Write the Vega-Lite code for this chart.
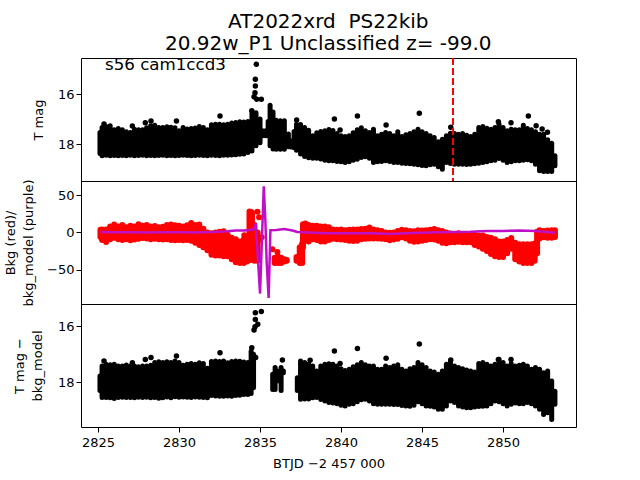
{"$schema":"https://vega.github.io/schema/vega-lite/v6.json","padding":{"left":4,"top":11,"right":0,"bottom":0},"autosize":{"type":"pad"},"background":"white","spacing":0,"bounds":"flush",
"config":{"font":"DejaVu Sans","view":{"stroke":"black","strokeWidth":1},"axis":{"grid":false,"domain":false,"tickColor":"black","tickSize":5,"labelColor":"black","titleColor":"black","labelFontSize":13,"titleFontSize":13,"titleFontWeight":"normal","labelOverlap":false}},
"title":{"text":["AT2022xrd \u00a0PS22kib","20.92w_P1 Unclassified z= -99.0"],"fontSize":20,"fontWeight":"normal","color":"black","anchor":"middle","offset":3,"lineHeight":22,"dx":38},
"datasets":{
"top":[{"d":2825.12,"t":17.54,"b":18.38},{"d":2825.25,"t":17.34,"b":18.47},{"d":2825.5,"t":17.30,"b":18.45},{"d":2825.75,"t":17.27,"b":18.47},{"d":2826,"t":17.43,"b":18.46},{"d":2826.25,"t":17.38,"b":18.47},{"d":2826.5,"t":17.43,"b":18.46},{"d":2826.75,"t":17.51,"b":18.47},{"d":2827,"t":17.54,"b":18.45},{"d":2827.25,"t":17.41,"b":18.47},{"d":2827.5,"t":17.43,"b":18.46},{"d":2827.75,"t":17.43,"b":18.45},{"d":2828,"t":17.35,"b":18.47},{"d":2828.25,"t":17.27,"b":18.46},{"d":2828.5,"t":17.25,"b":18.47},{"d":2828.75,"t":17.34,"b":18.46},{"d":2829,"t":17.34,"b":18.45},{"d":2829.25,"t":17.31,"b":18.47},{"d":2829.5,"t":17.33,"b":18.46},{"d":2829.75,"t":17.35,"b":18.47},{"d":2830,"t":17.47,"b":18.46},{"d":2830.25,"t":17.34,"b":18.45},{"d":2830.5,"t":17.40,"b":18.46},{"d":2830.75,"t":17.38,"b":18.47},{"d":2831,"t":17.36,"b":18.46},{"d":2831.25,"t":17.30,"b":18.45},{"d":2831.5,"t":17.34,"b":18.46},{"d":2831.75,"t":17.43,"b":18.47},{"d":2832,"t":17.23,"b":18.45},{"d":2832.25,"t":17.21,"b":18.46},{"d":2832.5,"t":17.21,"b":18.47},{"d":2832.75,"t":17.23,"b":18.45},{"d":2833,"t":17.21,"b":18.45},{"d":2833.25,"t":17.16,"b":18.44},{"d":2833.5,"t":17.14,"b":18.43},{"d":2833.75,"t":17.11,"b":18.41},{"d":2834,"t":17.12,"b":18.40},{"d":2834.25,"t":17.10,"b":18.34},{"d":2834.5,"t":16.78,"b":18.28},{"d":2834.75,"t":16.75,"b":18.07},{"d":2835,"t":17.0,"b":17.95},{"d":2835.15,"t":17.47,"b":17.67},{"d":2835.35,"t":17.47,"b":17.67},{"d":2835.5,"t":17.1,"b":17.67},{"d":2835.62,"t":16.45,"b":18.07},{"d":2835.8,"t":16.72,"b":18.2},{"d":2836,"t":17.05,"b":18.21},{"d":2836.25,"t":17.07,"b":18.21},{"d":2836.5,"t":17.07,"b":18.21},{"d":2836.75,"t":17.6,"b":18.11},{"d":2836.9,"t":17.87,"b":18.12},{"d":2837.1,"t":17.5,"b":18.15},{"d":2837.25,"t":17.21,"b":18.25},{"d":2837.5,"t":17.22,"b":18.40},{"d":2837.75,"t":17.34,"b":18.50},{"d":2838,"t":17.45,"b":18.55},{"d":2838.25,"t":17.67,"b":18.57},{"d":2838.5,"t":17.55,"b":18.57},{"d":2838.75,"t":17.50,"b":18.60},{"d":2839,"t":17.47,"b":18.65},{"d":2839.25,"t":17.42,"b":18.67},{"d":2839.5,"t":17.46,"b":18.67},{"d":2839.75,"t":17.58,"b":18.70},{"d":2840,"t":17.67,"b":18.71},{"d":2840.25,"t":17.70,"b":18.74},{"d":2840.5,"t":17.67,"b":18.71},{"d":2840.75,"t":17.55,"b":18.65},{"d":2841,"t":17.43,"b":18.61},{"d":2841.25,"t":17.35,"b":18.54},{"d":2841.5,"t":17.47,"b":18.51},{"d":2841.75,"t":17.54,"b":18.57},{"d":2842,"t":17.41,"b":18.74},{"d":2842.25,"t":17.67,"b":18.71},{"d":2842.5,"t":17.61,"b":18.70},{"d":2842.75,"t":17.54,"b":18.67},{"d":2843,"t":17.58,"b":18.70},{"d":2843.25,"t":17.67,"b":18.74},{"d":2843.5,"t":17.51,"b":18.74},{"d":2843.75,"t":17.70,"b":18.77},{"d":2844,"t":17.63,"b":18.78},{"d":2844.25,"t":17.58,"b":18.79},{"d":2844.5,"t":17.51,"b":18.81},{"d":2844.75,"t":17.41,"b":18.83},{"d":2845,"t":17.51,"b":18.86},{"d":2845.25,"t":17.58,"b":18.87},{"d":2845.5,"t":17.67,"b":18.83},{"d":2845.75,"t":17.74,"b":18.81},{"d":2846,"t":17.91,"b":18.91},{"d":2846.25,"t":17.81,"b":19.01},{"d":2846.5,"t":17.67,"b":18.74},{"d":2846.75,"t":17.57,"b":18.78},{"d":2847,"t":17.58,"b":18.81},{"d":2847.25,"t":17.61,"b":18.81},{"d":2847.5,"t":17.58,"b":18.81},{"d":2847.75,"t":17.65,"b":18.82},{"d":2848,"t":17.70,"b":18.81},{"d":2848.25,"t":17.61,"b":18.79},{"d":2848.5,"t":17.34,"b":18.77},{"d":2848.75,"t":17.30,"b":18.74},{"d":2849,"t":17.37,"b":18.71},{"d":2849.25,"t":17.41,"b":18.67},{"d":2849.5,"t":17.34,"b":18.65},{"d":2849.75,"t":17.21,"b":18.58},{"d":2850,"t":17.34,"b":18.65},{"d":2850.25,"t":17.47,"b":18.74},{"d":2850.5,"t":17.41,"b":18.71},{"d":2850.75,"t":17.43,"b":18.67},{"d":2851,"t":17.43,"b":18.67},{"d":2851.25,"t":17.25,"b":18.65},{"d":2851.5,"t":17.38,"b":18.63},{"d":2851.75,"t":17.43,"b":18.67},{"d":2852,"t":17.51,"b":18.81},{"d":2852.25,"t":17.61,"b":19.07},{"d":2852.5,"t":17.61,"b":19.10},{"d":2852.75,"t":17.83,"b":19.10},{"d":2853,"t":17.97,"b":19.10},{"d":2853.2,"t":18.47,"b":18.87}],
"topPts":[{"d":2834.77,"m":14.81},{"d":2834.71,"m":15.41},{"d":2834.71,"m":15.68},{"d":2834.69,"m":15.95},{"d":2834.63,"m":16.11},{"d":2834.79,"m":16.21},{"d":2835.08,"m":16.21},{"d":2832.53,"m":16.88},{"d":2825.37,"m":17.2},{"d":2827.12,"m":17.28},{"d":2827.92,"m":17.15},{"d":2828.27,"m":17.08},{"d":2829.84,"m":17.08},{"d":2837.26,"m":17.04},{"d":2839.59,"m":17.0},{"d":2834.49,"m":16.67},{"d":2841.01,"m":16.88},{"d":2842.78,"m":17.24},{"d":2839.94,"m":17.44},{"d":2844.83,"m":16.77},{"d":2846.77,"m":17.33},{"d":2849.71,"m":17.11},{"d":2850.49,"m":17.15},{"d":2851.56,"m":16.88},{"d":2852.04,"m":17.27},{"d":2852.41,"m":17.4},{"d":2852.74,"m":17.53}],
"red":[{"d":2825.15,"t":3.5,"b":-6},{"d":2825.25,"t":4,"b":-10},{"d":2825.5,"t":4,"b":-12.7},{"d":2825.75,"t":8,"b":-9},{"d":2826,"t":10.5,"b":-7},{"d":2826.25,"t":8,"b":-9},{"d":2826.5,"t":10,"b":-10},{"d":2826.75,"t":7,"b":-9},{"d":2827,"t":9,"b":-10.5},{"d":2827.25,"t":8,"b":-9.5},{"d":2827.5,"t":11,"b":-8.5},{"d":2827.75,"t":9,"b":-7.5},{"d":2828,"t":10,"b":-8},{"d":2828.25,"t":8,"b":-9},{"d":2828.5,"t":8.5,"b":-8.5},{"d":2828.75,"t":7,"b":-9},{"d":2829,"t":7.5,"b":-9.5},{"d":2829.25,"t":10,"b":-9},{"d":2829.5,"t":10.5,"b":-10},{"d":2829.75,"t":9.5,"b":-10.5},{"d":2830,"t":9,"b":-10},{"d":2830.25,"t":8,"b":-10.5},{"d":2830.5,"t":9.5,"b":-10},{"d":2830.75,"t":12.5,"b":-11},{"d":2831,"t":10,"b":-14},{"d":2831.25,"t":10.5,"b":-17},{"d":2831.5,"t":5,"b":-20},{"d":2831.75,"t":0,"b":-24},{"d":2832,"t":-1,"b":-30},{"d":2832.25,"t":0,"b":-31},{"d":2832.5,"t":1,"b":-31},{"d":2832.75,"t":1.5,"b":-32},{"d":2833,"t":-3,"b":-32},{"d":2833.25,"t":-7,"b":-36},{"d":2833.5,"t":-9,"b":-40},{"d":2833.75,"t":-12,"b":-41},{"d":2834,"t":-9,"b":-41},{"d":2834.2,"t":-10,"b":-39},{"d":2834.35,"t":28,"b":-37},{"d":2834.5,"t":27,"b":-37},{"d":2834.65,"t":10,"b":-38},{"d":2834.85,"t":0,"b":-38},{"d":2835.9,"t":-34,"b":-40.9},{"d":2836.1,"t":-32,"b":-41},{"d":2836.3,"t":-34,"b":-41},{"d":2836.5,"t":-36,"b":-39},{"d":2836.65,"t":-37,"b":-38},{"d":2837.25,"t":-33,"b":-38},{"d":2837.45,"t":-20,"b":-41},{"d":2837.6,"t":-15,"b":-41},{"d":2837.65,"t":11,"b":-20},{"d":2837.8,"t":12,"b":-8},{"d":2838,"t":10,"b":-12},{"d":2838.25,"t":9,"b":-9},{"d":2838.5,"t":9,"b":-10},{"d":2838.75,"t":8,"b":-12},{"d":2839,"t":8,"b":-12},{"d":2839.25,"t":7,"b":-10},{"d":2839.5,"t":4,"b":-8.5},{"d":2839.75,"t":3.5,"b":-9},{"d":2840,"t":4,"b":-9.5},{"d":2840.25,"t":3,"b":-10},{"d":2840.5,"t":3.5,"b":-11},{"d":2840.75,"t":4,"b":-11.5},{"d":2841,"t":4,"b":-11},{"d":2841.25,"t":4.5,"b":-9},{"d":2841.5,"t":5,"b":-8.5},{"d":2841.75,"t":6.5,"b":-8},{"d":2842,"t":4,"b":-8},{"d":2842.25,"t":3,"b":-8},{"d":2842.5,"t":2,"b":-8.5},{"d":2842.75,"t":0,"b":-9},{"d":2843,"t":-0.5,"b":-10.5},{"d":2843.25,"t":0,"b":-9.5},{"d":2843.5,"t":2,"b":-8.5},{"d":2843.75,"t":3.5,"b":-6.5},{"d":2844,"t":3,"b":-8},{"d":2844.25,"t":2,"b":-11},{"d":2844.5,"t":1.5,"b":-12.5},{"d":2844.75,"t":3,"b":-12},{"d":2845,"t":2.5,"b":-11},{"d":2845.25,"t":3,"b":-10},{"d":2845.5,"t":3.5,"b":-9},{"d":2845.75,"t":4.5,"b":-9.5},{"d":2846,"t":3,"b":-11},{"d":2846.25,"t":2,"b":-14},{"d":2846.5,"t":0,"b":-14.5},{"d":2846.75,"t":-1.5,"b":-13},{"d":2847,"t":-2.5,"b":-13},{"d":2847.25,"t":-1,"b":-12.5},{"d":2847.5,"t":-2,"b":-13},{"d":2847.75,"t":-3,"b":-13},{"d":2848,"t":-3,"b":-13},{"d":2848.25,"t":-3,"b":-17},{"d":2848.5,"t":-4,"b":-19},{"d":2848.75,"t":-4,"b":-22},{"d":2849,"t":-6,"b":-25},{"d":2849.25,"t":-7,"b":-29},{"d":2849.5,"t":-9,"b":-32},{"d":2849.75,"t":-12,"b":-33},{"d":2850,"t":-12,"b":-33},{"d":2850.25,"t":-10,"b":-28},{"d":2850.5,"t":-7.5,"b":-22},{"d":2850.75,"t":-14,"b":-36},{"d":2851,"t":-16,"b":-39},{"d":2851.25,"t":-16,"b":-41},{"d":2851.5,"t":-16,"b":-41},{"d":2851.75,"t":-16,"b":-41},{"d":2851.95,"t":-15,"b":-38},{"d":2852.1,"t":1,"b":-28},{"d":2852.25,"t":3,"b":-8},{"d":2852.5,"t":2,"b":-6.5},{"d":2852.75,"t":2.5,"b":-7},{"d":2853,"t":3,"b":-7},{"d":2853.2,"t":3,"b":-6}],
"redPts":[{"d":2834.84,"v":27.9},{"d":2834.94,"v":20.3},{"d":2834.03,"v":-3.8},{"d":2835.1,"v":-6.5},{"d":2834.9,"v":-10},{"d":2835.76,"v":-22.6},{"d":2836.07,"v":-26.1}],
"purple":[{"d":2825.15,"v":0.5},{"d":2826,"v":0.3},{"d":2827,"v":0.2},{"d":2828,"v":0},{"d":2829,"v":0.3},{"d":2830,"v":0.2},{"d":2831,"v":0},{"d":2832,"v":0.5},{"d":2832.5,"v":1},{"d":2833,"v":1.5},{"d":2833.5,"v":2.5},{"d":2834,"v":2.5},{"d":2834.5,"v":3.5},{"d":2834.65,"v":5},{"d":2834.73,"v":12},{"d":2834.86,"v":-32},{"d":2835,"v":-82},{"d":2835.1,"v":-20},{"d":2835.23,"v":62},{"d":2835.33,"v":15},{"d":2835.41,"v":-40},{"d":2835.53,"v":-88},{"d":2835.64,"v":3},{"d":2836,"v":3.3},{"d":2836.5,"v":4.5},{"d":2837,"v":2.5},{"d":2837.3,"v":0.5},{"d":2838,"v":0},{"d":2839,"v":-1},{"d":2840,"v":-1.2},{"d":2841,"v":-1},{"d":2842,"v":-1.2},{"d":2843,"v":-2},{"d":2844,"v":-1},{"d":2845,"v":-0.5},{"d":2846,"v":0.3},{"d":2847,"v":0.5},{"d":2848,"v":1},{"d":2849,"v":2},{"d":2850,"v":2},{"d":2851,"v":2.5},{"d":2852,"v":2},{"d":2853,"v":0},{"d":2853.2,"v":-0.2}],
"bot":[{"d":2825.12,"t":17.78,"b":18.3},{"d":2825.25,"t":17.42,"b":18.55},{"d":2825.5,"t":17.36,"b":18.55},{"d":2825.75,"t":17.38,"b":18.56},{"d":2826,"t":17.36,"b":18.58},{"d":2826.25,"t":17.42,"b":18.55},{"d":2826.5,"t":17.42,"b":18.54},{"d":2826.75,"t":17.39,"b":18.55},{"d":2827,"t":17.42,"b":18.55},{"d":2827.25,"t":17.42,"b":18.56},{"d":2827.5,"t":17.45,"b":18.54},{"d":2827.75,"t":17.42,"b":18.55},{"d":2828,"t":17.42,"b":18.54},{"d":2828.25,"t":17.40,"b":18.56},{"d":2828.5,"t":17.30,"b":18.55},{"d":2828.75,"t":17.27,"b":18.57},{"d":2829,"t":17.30,"b":18.56},{"d":2829.25,"t":17.27,"b":18.53},{"d":2829.5,"t":17.30,"b":18.56},{"d":2829.75,"t":17.24,"b":18.52},{"d":2830,"t":17.30,"b":18.54},{"d":2830.25,"t":17.40,"b":18.53},{"d":2830.5,"t":17.36,"b":18.54},{"d":2830.75,"t":17.33,"b":18.55},{"d":2831,"t":17.36,"b":18.53},{"d":2831.25,"t":17.31,"b":18.54},{"d":2831.5,"t":17.33,"b":18.55},{"d":2831.75,"t":17.50,"b":18.56},{"d":2832,"t":17.26,"b":18.48},{"d":2832.25,"t":17.24,"b":18.49},{"d":2832.5,"t":17.26,"b":18.50},{"d":2832.75,"t":17.24,"b":18.50},{"d":2833,"t":17.31,"b":18.49},{"d":2833.25,"t":17.26,"b":18.50},{"d":2833.5,"t":17.24,"b":18.48},{"d":2833.75,"t":17.25,"b":18.47},{"d":2834,"t":17.28,"b":18.44},{"d":2834.25,"t":17.30,"b":18.44},{"d":2834.45,"t":16.9,"b":18.40},{"d":2834.6,"t":17.0,"b":18.2},{"d":2835.78,"t":17.72,"b":18.26},{"d":2835.93,"t":17.48,"b":18.26},{"d":2836.07,"t":17.6,"b":17.96},{"d":2836.3,"t":17.48,"b":18.3},{"d":2836.44,"t":17.6,"b":17.66},{"d":2837.3,"t":17.84,"b":18.3},{"d":2837.5,"t":17.24,"b":18.61},{"d":2837.75,"t":17.30,"b":18.60},{"d":2838,"t":17.36,"b":18.6},{"d":2838.25,"t":17.42,"b":18.56},{"d":2838.5,"t":17.6,"b":18.55},{"d":2838.75,"t":17.42,"b":18.62},{"d":2839,"t":17.36,"b":18.67},{"d":2839.25,"t":17.34,"b":18.73},{"d":2839.5,"t":17.36,"b":18.74},{"d":2839.75,"t":17.42,"b":18.77},{"d":2840,"t":17.52,"b":18.82},{"d":2840.25,"t":17.58,"b":18.85},{"d":2840.5,"t":17.54,"b":18.79},{"d":2840.75,"t":17.45,"b":18.77},{"d":2841,"t":17.38,"b":18.70},{"d":2841.25,"t":17.30,"b":18.63},{"d":2841.5,"t":17.38,"b":18.61},{"d":2841.75,"t":17.42,"b":18.67},{"d":2842,"t":17.42,"b":18.77},{"d":2842.25,"t":17.54,"b":18.79},{"d":2842.5,"t":17.54,"b":18.79},{"d":2842.75,"t":17.42,"b":18.79},{"d":2843,"t":17.48,"b":18.79},{"d":2843.25,"t":17.42,"b":18.80},{"d":2843.5,"t":17.38,"b":18.80},{"d":2843.75,"t":17.54,"b":18.83},{"d":2844,"t":17.60,"b":18.85},{"d":2844.25,"t":17.52,"b":18.86},{"d":2844.5,"t":17.48,"b":18.82},{"d":2844.75,"t":17.30,"b":18.70},{"d":2845,"t":17.38,"b":18.77},{"d":2845.25,"t":17.48,"b":18.85},{"d":2845.5,"t":17.60,"b":18.86},{"d":2845.75,"t":17.64,"b":18.89},{"d":2846,"t":17.72,"b":18.97},{"d":2846.25,"t":17.60,"b":18.97},{"d":2846.5,"t":17.36,"b":18.85},{"d":2846.75,"t":17.24,"b":18.67},{"d":2847,"t":17.42,"b":18.73},{"d":2847.25,"t":17.48,"b":18.85},{"d":2847.5,"t":17.52,"b":18.89},{"d":2847.75,"t":17.57,"b":18.91},{"d":2848,"t":17.60,"b":18.91},{"d":2848.25,"t":17.64,"b":18.89},{"d":2848.5,"t":17.33,"b":18.87},{"d":2848.75,"t":17.30,"b":18.86},{"d":2849,"t":17.36,"b":18.85},{"d":2849.25,"t":17.42,"b":18.77},{"d":2849.5,"t":17.36,"b":18.67},{"d":2849.75,"t":17.18,"b":18.70},{"d":2850,"t":17.30,"b":18.77},{"d":2850.25,"t":17.42,"b":18.85},{"d":2850.5,"t":17.33,"b":18.79},{"d":2850.75,"t":17.42,"b":18.74},{"d":2851,"t":17.40,"b":18.77},{"d":2851.25,"t":17.36,"b":18.77},{"d":2851.5,"t":17.42,"b":18.73},{"d":2851.75,"t":17.54,"b":18.77},{"d":2852,"t":17.48,"b":18.85},{"d":2852.25,"t":17.54,"b":18.97},{"d":2852.5,"t":17.66,"b":19.15},{"d":2852.75,"t":17.60,"b":19.09},{"d":2853,"t":17.96,"b":19.33},{"d":2853.2,"t":18.32,"b":18.79}],
"botPts":[{"d":2834.71,"m":15.52},{"d":2835.08,"m":15.48},{"d":2834.71,"m":15.76},{"d":2834.86,"m":15.93},{"d":2834.69,"m":16.02},{"d":2834.63,"m":16.14},{"d":2834.49,"m":16.77},{"d":2834.73,"m":17.12},{"d":2832.53,"m":16.95},{"d":2825.37,"m":17.24},{"d":2827.12,"m":17.31},{"d":2827.92,"m":17.19},{"d":2828.27,"m":17.12},{"d":2829.84,"m":17.07},{"d":2836.38,"m":17.21},{"d":2838.09,"m":17.22},{"d":2839.59,"m":16.89},{"d":2841.01,"m":16.8},{"d":2842.78,"m":17.15},{"d":2844.83,"m":16.64},{"d":2839.94,"m":17.33},{"d":2846.77,"m":17.21},{"d":2849.71,"m":17.19},{"d":2850.49,"m":17.19}]
},
"vconcat":[
{"width":495,"height":123,"layer":[
{"data":{"name":"top"},"mark":{"type":"rule","color":"black","strokeWidth":5,"strokeCap":"round"},"encoding":{"x":{"field":"d","type":"quantitative","scale":{"domain":[2823.95,2854.5],"nice":false,"zero":false},"axis":null},"y":{"field":"t","type":"quantitative","scale":{"domain":[19.48,14.56],"nice":false,"zero":false},"axis":{"values":[16,18],"title":"T mag","titlePadding":12}},"y2":{"field":"b"}}},
{"data":{"name":"topPts"},"mark":{"type":"point","filled":true,"opacity":1,"color":"black","size":30},"encoding":{"x":{"field":"d","type":"quantitative"},"y":{"field":"m","type":"quantitative"}}},
{"data":{"values":[{"d":2846.91}]},"mark":{"type":"rule","color":"#ff0000","strokeWidth":2,"strokeDash":[7,3]},"encoding":{"x":{"field":"d","type":"quantitative"}}},
{"data":{"values":[{"d":2825.43,"m":15.04,"s":"s56 cam1ccd3"}]},"mark":{"type":"text","align":"left","baseline":"alphabetic","fontSize":16.67,"color":"black"},"encoding":{"x":{"field":"d","type":"quantitative"},"y":{"field":"m","type":"quantitative"},"text":{"field":"s"}}}
]},
{"width":495,"height":123,"layer":[
{"data":{"name":"red"},"mark":{"type":"rule","color":"#ff0000","strokeWidth":6,"strokeCap":"round"},"encoding":{"x":{"field":"d","type":"quantitative","scale":{"domain":[2823.95,2854.5],"nice":false,"zero":false},"axis":null},"y":{"field":"t","type":"quantitative","scale":{"domain":[-96,69],"nice":false,"zero":false},"axis":{"values":[-50,0,50],"title":["Bkg (red)/","bkg_model (purple)"],"titlePadding":11,"titleLineHeight":18}},"y2":{"field":"b"}}},
{"data":{"name":"redPts"},"mark":{"type":"point","filled":true,"opacity":1,"color":"#ff0000","size":36},"encoding":{"x":{"field":"d","type":"quantitative"},"y":{"field":"v","type":"quantitative"}}},
{"data":{"name":"purple"},"mark":{"type":"line","color":"#bf10c8","strokeWidth":2.5},"encoding":{"x":{"field":"d","type":"quantitative"},"y":{"field":"v","type":"quantitative"}}}
]},
{"width":495,"height":123,"layer":[
{"data":{"name":"bot"},"mark":{"type":"rule","color":"black","strokeWidth":5,"strokeCap":"round"},"encoding":{"x":{"field":"d","type":"quantitative","scale":{"domain":[2823.95,2854.5],"nice":false,"zero":false},"axis":{"values":[2825,2830,2835,2840,2845,2850],"format":"d","title":"BTJD −2 457 000","labelPadding":4,"titlePadding":8}},"y":{"field":"t","type":"quantitative","scale":{"domain":[19.6,15.21],"nice":false,"zero":false},"axis":{"values":[16,18],"title":["T mag −","bkg_model"],"titlePadding":13,"titleLineHeight":18}},"y2":{"field":"b"}}},
{"data":{"name":"botPts"},"mark":{"type":"point","filled":true,"opacity":1,"color":"black","size":30},"encoding":{"x":{"field":"d","type":"quantitative"},"y":{"field":"m","type":"quantitative"}}}
]}
]}
